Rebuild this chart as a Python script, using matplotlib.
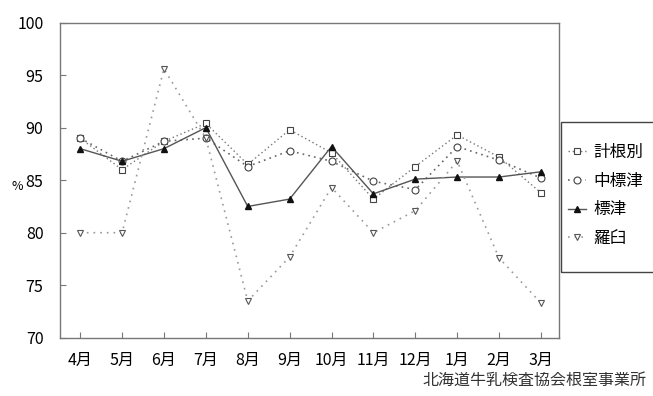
import matplotlib.pyplot as plt
from matplotlib.patches import Rectangle

plt.rcParams['font.family'] = ['Liberation Sans Narrow', 'Noto Sans CJK JP', 'DejaVu Sans']

# data
months = ['4月', '5月', '6月', '7月', '8月', '9月', '10月', '11月', '12月', '1月', '2月', '3月']
kenebetsu = [89.0, 86.0, 88.7, 90.4, 86.5, 89.8, 87.6, 83.2, 86.3, 89.3, 87.2, 83.8]
nakashibetsu = [89.0, 86.8, 88.7, 89.0, 86.3, 87.8, 86.8, 84.9, 84.1, 88.2, 86.9, 85.2]
shibetsu = [88.0, 86.8, 88.0, 90.0, 82.5, 83.2, 88.2, 83.7, 85.1, 85.3, 85.3, 85.8]
rausu = [80.0, 80.0, 95.6, 89.0, 73.5, 77.7, 84.3, 80.0, 82.1, 86.8, 77.6, 73.3]
series_names = ['計根別', '中標津', '標津', '羅臼']
yticks = [70, 75, 80, 85, 90, 95, 100]
source = '北海道牛乳検査協会根室事業所'

fig = plt.figure(figsize=(6.53, 3.96), dpi=100)
ax = fig.add_axes([0.092, 0.147, 0.764, 0.796])

x = list(range(len(months)))
ax.plot(x, kenebetsu, linestyle=(0, (1, 2)), color='#777777', lw=1.0,
        marker='s', ms=5, mfc='white', mec='#444444', mew=0.8, label=series_names[0])
ax.plot(x, nakashibetsu, linestyle=(0, (1, 2.5)), color='#666666', lw=1.2,
        marker='o', ms=5, mfc='white', mec='#444444', mew=0.8, label=series_names[1])
ax.plot(x, shibetsu, linestyle='-', color='#555555', lw=1.0,
        marker='^', ms=5, mfc='#111111', mec='#111111', label=series_names[2])
ax.plot(x, rausu, linestyle=(0, (1, 3)), color='#999999', lw=1.2,
        marker='v', ms=5, mfc='white', mec='#555555', mew=0.8, label=series_names[3])

ax.set_xlim(-0.48, 11.43)
ax.set_ylim(70, 100)
ax.set_yticks(yticks)
ax.set_xticks(x)
ax.set_xticklabels(months)
ax.tick_params(axis='both', direction='in', length=4, color='#777777', labelsize=11.5)
ax.tick_params(axis='x', pad=10)
ax.tick_params(axis='y', pad=12)
for s in ax.spines.values():
    s.set_color('#777777')
    s.set_linewidth(1.0)

fig.text(0.018, 0.53, '%', fontsize=9, ha='left', va='center')

# legend box (runs off the right edge like the reference)
fig.patches.append(Rectangle((561 / 653, 1 - 272 / 396), 0.2, 150 / 396,
                             transform=fig.transFigure, fill=False,
                             edgecolor='#444444', lw=1.0))
leg = ax.legend(loc='center left', bbox_to_anchor=(563 / 653, 1 - 195.5 / 396),
                bbox_transform=fig.transFigure, frameon=False,
                fontsize=12, handlelength=1.1, handletextpad=0.4,
                labelspacing=0.7, borderpad=0.3, borderaxespad=0)
for t in leg.get_texts():
    t.set_family(['Noto Sans CJK JP', 'DejaVu Sans'])

fig.text(0.99, 0.04, source, fontsize=11.5, ha='right', va='center',
         family=['Noto Sans CJK JP', 'DejaVu Sans'], color='#333333')

fig.savefig('out.png', dpi=100)
